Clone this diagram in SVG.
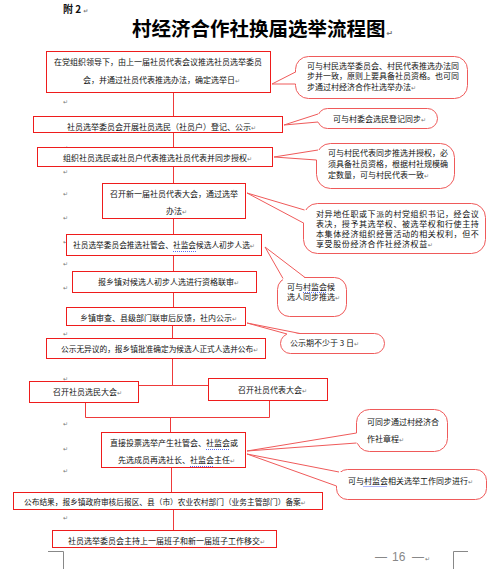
<svg xmlns="http://www.w3.org/2000/svg" width="500" height="569" viewBox="0 0 500 569">
<style>
text{font-family:"Noto Sans CJK SC","Noto Sans",sans-serif;fill:#111;font-size:8px}
.title{font-size:19.5px;font-weight:700;fill:#000}
.box{fill:#fff;stroke:#ee1c1c;stroke-width:1}
.co{fill:#fff;stroke:#ef5a5a;stroke-width:1}
.cover{fill:#fff;stroke:none}
.wedge{fill:none;stroke:#ef5a5a;stroke-width:1}
.pm{font-family:"DejaVu Sans",sans-serif;font-size:6px;fill:#777}
.lm{font-family:"DejaVu Sans",sans-serif;font-size:6px;fill:#777}
.wavy{stroke:#3344ee;stroke-width:0.8;stroke-dasharray:1 1;fill:none}
.c4 text{letter-spacing:0.6px}
.sm{font-size:7.7px}
.page{stroke:#888;fill:none;stroke-width:1}
.foot{font-family:"Liberation Sans",sans-serif;font-size:12px;fill:#888}
</style>

<text x="63" y="13" style="font-size:10px;font-weight:700">附 2<tspan class="pm" dx="2">↵</tspan></text>
<text class="title" x="132" y="35.5">村经济合作社换届选举流程图<tspan class="pm" style="font-size:8px" dx="1">↵</tspan></text>

<g id="para-marks">
<text class="lm" x="63" y="104">↵</text>
<text class="lm" x="63" y="150">↵</text>
<text class="lm" x="63" y="174">↵</text>
<text class="lm" x="63" y="196">↵</text>
<text class="lm" x="63" y="220">↵</text>
<text class="lm" x="63" y="244">↵</text>
<text class="lm" x="63" y="266">↵</text>
<text class="lm" x="63" y="290">↵</text>
<text class="lm" x="63" y="336">↵</text>
<text class="lm" x="63" y="381">↵</text>
<text class="lm" x="63" y="426">↵</text>
<text class="lm" x="63" y="451">↵</text>
<text class="lm" x="63" y="473">↵</text>
<text class="lm" x="63" y="520">↵</text>
</g>

<g id="connectors" stroke="#ee3a3a" stroke-width="1" fill="none">
<path d="M173.5,93 V116"/>
<path d="M173.5,133 V147"/>
<path d="M173.5,167 V183"/>
<path d="M173.5,219 V234"/>
<path d="M173.5,256 V271"/>
<path d="M173.5,293 V307"/>
<path d="M172.5,326 V338"/>
<path d="M172.5,359 V385.5"/>
<path d="M139,385.5 H208"/>
<path d="M85.5,403 V417.5 H269.5 V401"/>
<path d="M170.5,417.5 V432"/>
<path d="M171.5,468 V492"/>
<path d="M173.5,510 V530"/>
</g>

<g id="n1"><rect class="box" x="46.5" y="51.5" width="224" height="41"/>
<text x="54" y="65">在党组织领导下，由上一届社员代表会议推选社员选举委员</text>
<text x="83" y="83">会，并通过社员代表推选办法，确定选举日<tspan class="pm">↵</tspan></text></g>

<g id="n2"><rect class="box" x="33.5" y="116.5" width="249" height="16"/>
<text x="67" y="130">社员选举委员会开展社员选民（社员户）登记、公示<tspan class="pm">↵</tspan></text></g>

<g id="n3"><rect class="box" x="37.5" y="147.5" width="235" height="19"/>
<text x="63" y="161">组织社员选民或社员户代表推选社员代表并同步授权<tspan class="pm">↵</tspan></text></g>

<g id="n4"><rect class="box" x="102.5" y="183.5" width="143" height="35"/>
<text x="110" y="197">召开新一届社员代表大会，通过选举</text>
<text x="166" y="214">办法<tspan class="pm">↵</tspan></text></g>

<g id="n5"><rect class="box" x="66.5" y="234.5" width="195" height="21"/>
<text class="sm" x="73" y="248">社员选举委员会推选社管会、社监会候选人初步人选<tspan class="pm">↵</tspan></text>
<path class="wavy" d="M173,251.5 H196"/></g>

<g id="n6"><rect class="box" x="72.5" y="271.5" width="184" height="21"/>
<text x="98" y="285">报乡镇对候选人初步人选进行资格联审<tspan class="pm">↵</tspan></text></g>

<g id="n7"><rect class="box" x="66.5" y="307.5" width="179" height="18"/>
<text x="80" y="321">乡镇审查、县级部门联审后反馈，社内公示<tspan class="pm">↵</tspan></text></g>

<g id="n8"><rect class="box" x="46.5" y="338.5" width="219" height="20"/>
<text class="sm" x="61" y="352">公示无异议的，报乡镇批准确定为候选人正式人选并公布<tspan class="pm">↵</tspan></text></g>

<g id="n9"><rect class="box" x="29.5" y="381.5" width="109" height="21"/>
<text x="53" y="395">召开社员选民大会<tspan class="pm">↵</tspan></text></g>

<g id="n10"><rect class="box" x="208.5" y="378.5" width="119" height="22"/>
<text x="238" y="393">召开社员代表大会<tspan class="pm">↵</tspan></text></g>

<g id="n11"><rect class="box" x="101.5" y="432.5" width="144" height="35"/>
<text x="110" y="446">直接投票选举产生社管会、社监会或</text>
<text x="118" y="463">先选成员再选社长、社监会主任<tspan class="pm">↵</tspan></text>
<path class="wavy" d="M206,449.5 H230"/>
<path class="wavy" d="M190,466.5 H213"/></g>

<g id="n12"><rect class="box" x="13.5" y="492.5" width="309" height="17"/>
<text class="sm" x="24" y="505">公布结果，报乡镇政府审核后报区、县（市）农业农村部门（业务主管部门）备案<tspan class="pm">↵</tspan></text></g>

<g id="n13"><rect class="box" x="52.5" y="530.5" width="224" height="17"/>
<text x="68" y="544">社员选举委员会主持上一届班子和新一届班子工作移交<tspan class="pm">↵</tspan></text></g>

<g id="c1"><rect class="co" x="295.5" y="56.5" width="172" height="42" rx="13"/>
<polygon class="cover" points="296,72 272,84 296,84 299,84 299,72"/>
<polyline class="wedge" points="295.5,72 272,84 295.5,84"/>
<text x="307" y="69">可与村民选举委员会、村民代表推选办法同</text>
<text x="307" y="79">步并一致，原则上要具备社员资格。也可同</text>
<text x="307" y="90">步通过村经济合作社选举办法<tspan class="pm">↵</tspan></text></g>

<g id="c2"><rect class="co" x="317.5" y="108.5" width="120" height="20" rx="10"/>
<polygon class="cover" points="318.5,114 284,125 318.5,122 321,122 321,114"/>
<polyline class="wedge" points="318,114 284,125 318,122"/>
<text x="333" y="122">可与村委会选民登记同步<tspan class="pm">↵</tspan></text></g>

<g id="c3"><rect class="co" x="316.5" y="143.5" width="138" height="45" rx="14"/>
<polygon class="cover" points="318,150 274,157 317,160 321,160 321,150"/>
<polyline class="wedge" points="318,150 274,157 316.5,160"/>
<text x="328" y="156">可与村民代表同步推选并授权，必</text>
<text x="328" y="167">须具备社员资格，根据村社规模确</text>
<text x="328" y="178">定数量，可与村民代表一致<tspan class="pm">↵</tspan></text></g>

<g id="c4" class="c4"><rect class="co" x="303.5" y="203.5" width="182" height="50" rx="14"/>
<polygon class="cover" points="304.5,210 247,193 304,223 308,223 308,210"/>
<polyline class="wedge" points="304.5,210 247,193 303.5,223"/>
<text x="316" y="217">对异地任职或下派的村党组织书记，经会议</text>
<text x="316" y="227">表决，授予其选举权、被选举权和行使主持</text>
<text x="316" y="237">本集体经济组织经营活动的相关权利，但不</text>
<text x="316" y="247">享受股份经济合作社经济权益<tspan class="pm">↵</tspan></text></g>

<g id="c5"><rect class="co" x="277.5" y="277.5" width="69" height="39" rx="12"/>
<polygon class="cover" points="283,278.5 265,247 305,278 305,281 283,281"/>
<polyline class="wedge" points="283,278.5 265,247 305,277.5"/>
<text x="287" y="290">可与村监会候</text>
<text x="287" y="300">选人同步推选<tspan class="pm">↵</tspan></text>
<path class="wavy" d="M303,292.5 H327"/></g>

<g id="c6"><rect class="co" x="280.5" y="333.5" width="104" height="20" rx="10"/>
<polygon class="cover" points="287,334 247,323 300,334 300,337 287,337"/>
<polyline class="wedge" points="287,334 247,323 300,333.5"/>
<text x="290" y="346">公示期不少于 3 日<tspan class="pm">↵</tspan></text></g>

<g id="c7"><rect class="co" x="356.5" y="409.5" width="91" height="42" rx="13"/>
<polygon class="cover" points="356.5,433 247,451 356.5,443 360,443 360,433"/>
<polyline class="wedge" points="356.5,433 247,451 356.5,443"/>
<text x="367" y="425">可同步通过村经济合</text>
<text x="367" y="442">作社章程<tspan class="pm">↵</tspan></text></g>

<g id="c8"><rect class="co" x="336.5" y="469.5" width="150" height="30" rx="11"/>
<polygon class="cover" points="339,472 247,454 336.5,486 340,486 342,472"/>
<polyline class="wedge" points="339,472 247,454 336.5,486"/>
<text x="348" y="484">可与村监会相关选举工作同步进行<tspan class="pm">↵</tspan></text>
<path class="wavy" d="M363.5,486.5 H386.5"/></g>

<path class="page" d="M48,551.5 H63.5 V569"/>
<path class="page" d="M453.5,569 V551.5 H468"/>
<text class="foot" x="375" y="561">—<tspan x="392">16</tspan><tspan x="412">—</tspan><tspan class="pm" dx="1">↵</tspan></text>
</svg>
